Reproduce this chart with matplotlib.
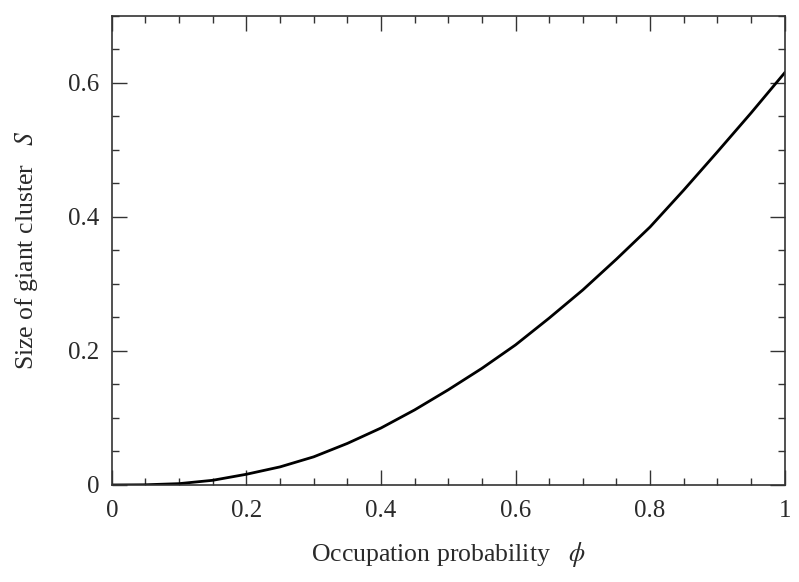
import numpy as np
import matplotlib
matplotlib.use("Agg")
import matplotlib.pyplot as plt
from matplotlib.ticker import MultipleLocator

# values
phi = [0, 0.05, 0.1, 0.15, 0.2, 0.25, 0.3, 0.35, 0.4, 0.45, 0.5,
       0.55, 0.6, 0.65, 0.7, 0.75, 0.8, 0.85, 0.9, 0.95, 1.0]
S = [0, 0.0003, 0.002, 0.007, 0.016, 0.027, 0.042, 0.062, 0.085, 0.112, 0.142,
     0.174, 0.209, 0.249, 0.291, 0.337, 0.385, 0.440, 0.497, 0.555, 0.615]

xticks = [0, 0.2, 0.4, 0.6, 0.8, 1]
xticklabels = ["0", "0.2", "0.4", "0.6", "0.8", "1"]
yticks = [0, 0.2, 0.4, 0.6]
yticklabels = ["0", "0.2", "0.4", "0.6"]

plt.rcParams['font.family'] = ['Liberation Serif', 'DejaVu Serif']
plt.rcParams['mathtext.fontset'] = 'stix'

fig = plt.figure(figsize=(7.99, 5.82), dpi=100)
ax = fig.add_axes([0.140, 0.1667, 0.842, 0.806])

ax.plot(phi, S, color='black', lw=2.0, solid_joinstyle='round')

ax.set_xlim(0, 1)
ax.set_ylim(0, 0.7)
ax.set_xticks(xticks)
ax.set_xticklabels(xticklabels)
ax.set_yticks(yticks)
ax.set_yticklabels(yticklabels)
ax.xaxis.set_minor_locator(MultipleLocator(0.05))
ax.yaxis.set_minor_locator(MultipleLocator(0.05))

ax.tick_params(which='both', direction='in', top=True, right=True,
               colors='#333333', labelcolor='#2a2a2a', labelsize=18)
ax.tick_params(which='major', length=11, width=1.0)
ax.tick_params(which='minor', length=5, width=1.0)
ax.tick_params(axis='x', which='major', pad=11)
ax.tick_params(axis='y', which='major', pad=9)
for sp in ax.spines.values():
    sp.set_linewidth(1.2)
    sp.set_color('#333333')

ax.set_xlabel(r"Occupation probability   $\phi$", fontsize=18.5, color='#2a2a2a', labelpad=13)
ax.set_ylabel(r"Size of giant cluster   $S$", fontsize=18.5, color='#2a2a2a', labelpad=20)

fig.savefig("out.png", dpi=100)
